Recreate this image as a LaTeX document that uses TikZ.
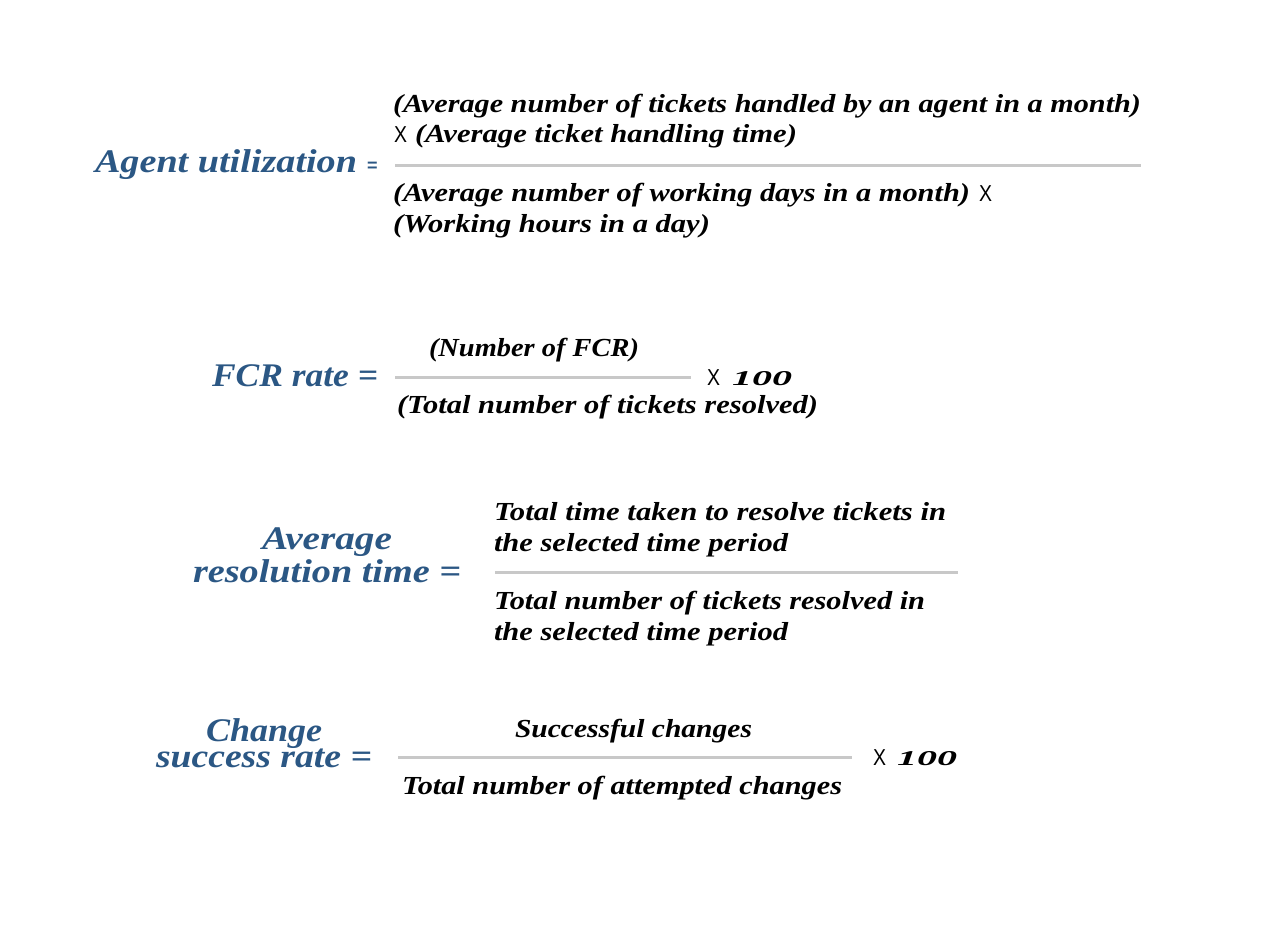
\documentclass[tikz,border=0pt]{standalone}
\usepackage{fontspec}
\usepackage{graphicx}
\setmainfont{Liberation Serif}
\newfontfamily\xsans{Liberation Sans}
\definecolor{lblblue}{HTML}{2B5784}
\definecolor{bargray}{HTML}{C8C8C8}
\newcommand{\fitw}[2]{\resizebox{#1pt}{\height}{#2}}
\tikzset{
  txt/.style={anchor=base west, inner sep=0pt, outer sep=0pt, text=black,
    font=\fontsize{26}{30}\selectfont\bfseries\itshape},
  lbl/.style={anchor=base west, inner sep=0pt, outer sep=0pt, text=lblblue,
    font=\fontsize{33}{38}\selectfont\bfseries\itshape},
  eqs/.style={anchor=base west, inner sep=0pt, outer sep=0pt, text=lblblue,
    font=\fontsize{18}{20}\selectfont\xsans\bfseries},
  times/.style={anchor=base west, inner sep=0pt, outer sep=0pt, text=black,
    font=\fontsize{23}{26}\selectfont\xsans},
  bar/.style={draw=bargray, line width=3pt}
}
\begin{document}
\begin{tikzpicture}[x=1pt,y=-1pt]
\fill[white] (0,0) rectangle (1261,924);
\useasboundingbox (0,0) rectangle (1261,924);

% Agent utilization
\node[lbl] (l1) at (95,172) {\fitw{262}{Agent utilization}};
\node[eqs] (e1) at (367,171) {=};
\node[txt] (n1a) at (393,112.5) {\fitw{748}{(Average number of tickets handled by an agent in a month)}};
\node[times] (x1a) at (394,142.5) {\resizebox{13pt}{\height}{X}};
\node[txt] (n1b) at (415,142.5) {\fitw{382}{(Average ticket handling time)}};
\coordinate (b1l) at (395,165);
\coordinate (b1r) at (1141,165);
\draw[bar] (b1l) -- (b1r);
\node[txt] (d1a) at (393,201.5) {\fitw{577}{(Average number of working days in a month)}};
\node[times] (x1b) at (979,201.5) {\resizebox{13pt}{\height}{X}};
\node[txt] (d1b) at (393,232.5) {\fitw{317}{(Working hours in a day)}};

% FCR rate
\node[lbl] (l2) at (212,386) {\fitw{166}{FCR rate =}};
\node[txt] (n2) at (429,356.5) {\fitw{210}{(Number of FCR)}};
\coordinate (b2l) at (395,377);
\coordinate (b2r) at (691,377);
\draw[bar] (b2l) -- (b2r);
\node[times] (x2) at (707,385) {\resizebox{13pt}{\height}{X}};
\node[txt] (h2) at (732,385) {\resizebox{60pt}{14pt}{100}};
\node[txt] (d2) at (397,413.5) {\fitw{421}{(Total number of tickets resolved)}};

% Average resolution time
\node[lbl] (l3a) at (262,549) {\fitw{130}{Average}};
\node[lbl] (l3b) at (193,582) {\fitw{268}{resolution time =}};
\node[txt] (n3a) at (494,520.5) {\fitw{452}{Total time taken to resolve tickets in}};
\node[txt] (n3b) at (494,551.5) {\fitw{294}{the selected time period}};
\coordinate (b3l) at (495,572);
\coordinate (b3r) at (958,572);
\draw[bar] (b3l) -- (b3r);
\node[txt] (d3a) at (494,609.5) {\fitw{431}{Total number of tickets resolved in}};
\node[txt] (d3b) at (494,640.5) {\fitw{294}{the selected time period}};

% Change success rate
\node[lbl] (l4a) at (206,741) {\fitw{116}{Change}};
\node[lbl] (l4b) at (156,767) {\fitw{216}{success rate =}};
\node[txt] (n4) at (515,737.5) {\fitw{237}{Successful changes}};
\coordinate (b4l) at (398,757);
\coordinate (b4r) at (852,757);
\draw[bar] (b4l) -- (b4r);
\node[times] (x4) at (873,765) {\resizebox{13pt}{\height}{X}};
\node[txt] (h4) at (897,765) {\resizebox{60pt}{14pt}{100}};
\node[txt] (d4) at (402,794.5) {\fitw{440}{Total number of attempted changes}};
\end{tikzpicture}
\end{document}
